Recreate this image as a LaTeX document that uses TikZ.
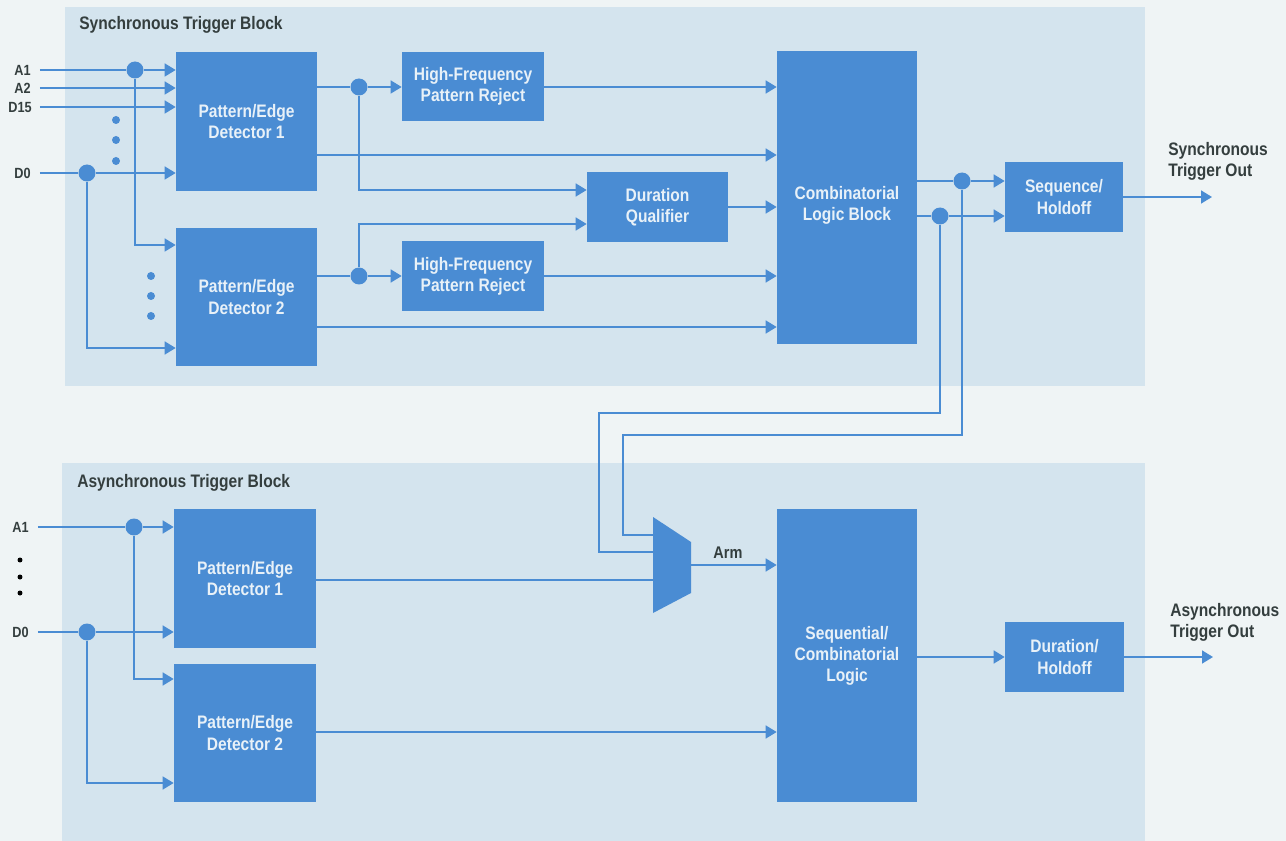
\documentclass[tikz,border=0pt]{standalone}
\usepackage{fontspec}
\setmainfont{Liberation Sans}[FakeStretch=0.86]
\usetikzlibrary{arrows.meta}
\definecolor{bgcol}{HTML}{EFF4F5}
\definecolor{panelcol}{HTML}{D4E4EE}
\definecolor{blkcol}{HTML}{4A8CD3}
\definecolor{txtcol}{HTML}{343E3E}
\definecolor{boxtxt}{HTML}{E8F1F8}
\begin{document}
\begin{tikzpicture}[x=0.02cm, y=-0.02cm,
    every node/.style={font=\fontsize{10.3}{12}\selectfont\bfseries},
    blk/.style={fill=blkcol, text=boxtxt, align=center, inner sep=0pt},
    lbl/.style={text=txtcol, inner sep=0pt},
    inlbl/.style={lbl, font=\fontsize{8.4}{10}\selectfont\bfseries},
    wire/.style={draw=blkcol, line width=0.9pt},
    sig/.style={wire, -{Triangle[length=0.22cm, width=0.26cm]}},
    jn/.style={circle, fill=blkcol, inner sep=0pt, minimum size=0.34cm},
    ell/.style={circle, fill=blkcol, inner sep=0pt, minimum size=0.16cm}]
        % panels
        \fill[bgcol] (0,0) rectangle (1286,841);
        \useasboundingbox (0,0) rectangle (1286,841);
        \fill[panelcol] (65,7) rectangle (1145,386);
        \fill[panelcol] (62,463) rectangle (1145,841);
        \node[lbl, anchor=west] (stitle) at (79,25) {Synchronous Trigger Block};
        \node[lbl, anchor=west] (atitle) at (77,483) {Asynchronous Trigger Block};
        % sync blocks
        \node[blk, minimum width=2.82cm, minimum height=2.78cm] (sped1) at (246.5,121.5) {Pattern/Edge\\Detector 1};
        \node[blk, minimum width=2.82cm, minimum height=2.76cm] (sped2) at (246.5,297) {Pattern/Edge\\Detector 2};
        \node[blk, minimum width=2.84cm, minimum height=1.38cm] (shf1) at (473,86.5) {High-Frequency\\Pattern Reject};
        \node[blk, minimum width=2.84cm, minimum height=1.40cm] (shf2) at (473,276) {High-Frequency\\Pattern Reject};
        \node[blk, minimum width=2.82cm, minimum height=1.40cm] (dq) at (657.5,207) {Duration\\Qualifier};
        \node[blk, minimum width=2.80cm, minimum height=5.86cm] (clb) at (847,197.5) {};
        \node[blk, fill=none] (clbt) at (847,205.5) {Combinatorial\\Logic Block};
        \node[blk, minimum width=2.36cm, minimum height=1.40cm] (sh) at (1064,197) {Sequence/\\Holdoff};
        % async blocks
        \node[blk, minimum width=2.84cm, minimum height=2.78cm] (aped1) at (245,578.5) {Pattern/Edge\\Detector 1};
        \node[blk, minimum width=2.84cm, minimum height=2.76cm] (aped2) at (245,733) {Pattern/Edge\\Detector 2};
        \node[blk, minimum width=2.80cm, minimum height=5.86cm] (scl) at (847,655.5) {Sequential/\\Combinatorial\\Logic};
        \node[blk, minimum width=2.38cm, minimum height=1.40cm] (dh) at (1064.5,657) {Duration/\\Holdoff};
        % mux
        \fill[blkcol] (653,517) -- (691,542) -- (691,593) -- (653,613) -- cycle;
        \coordinate (muxi1) at (653,552);
        \coordinate (muxi2) at (653,535);
        \coordinate (muxi3) at (653,580);
        \coordinate (muxo) at (691,565);
        \node[lbl, font=\fontsize{9.6}{12}\selectfont\bfseries] (arm) at (728,553) {Arm};
        % inputs
        \node[inlbl, anchor=east] (ia1) at (31,70) {A1};
        \node[inlbl, anchor=east] (ia2) at (31,88) {A2};
        \node[inlbl, anchor=east] (id15) at (32,107) {D15};
        \node[inlbl, anchor=east] (id0) at (31,173) {D0};
        \node[inlbl, anchor=east] (ka1l) at (29,527) {A1};
        \node[inlbl, anchor=east] (kd0l) at (29,632) {D0};
        \foreach \y in {120,140,161} \node[ell] (sv\y) at (116,\y) {};
        \foreach \y in {276,296,316} \node[ell] (sw\y) at (151,\y) {};
        \foreach \y in {560,577,593} \node[ell, fill=black, minimum size=0.1cm] (av\y) at (20,\y) {};
        % junctions
        \node[jn] (ja1) at (135,70) {};
        \node[jn] (jd0) at (87,173) {};
        \node[jn] (jp1) at (359,87) {};
        \node[jn] (jp2) at (359,276) {};
        \node[jn] (jo1) at (962,181) {};
        \node[jn] (jo2) at (940,216) {};
        \node[jn] (ka1) at (134,527) {};
        \node[jn] (kd0) at (87,632) {};
        % sync lines
        \draw[wire] ([xshift=0.18cm]ia1.east) -- (ja1);
        \draw[sig] (ja1) -- (ja1 -| sped1.west);
        \draw[sig] ([xshift=0.18cm]ia2.east) -- (ia2 -| sped1.west);
        \draw[sig] ([xshift=0.16cm]id15.east) -- (id15 -| sped1.west);
        \draw[wire] ([xshift=0.18cm]id0.east) -- (jd0);
        \draw[sig] (jd0) -- (jd0 -| sped1.west);
        \draw[sig] (ja1) |- (sped2.west |- 0,245);
        \draw[sig] (jd0) |- (sped2.west |- 0,348);
        \draw[wire] (sped1.east |- jp1) -- (jp1);
        \draw[sig] (jp1) -- (shf1.west |- jp1);
        \draw[sig] (jp1) |- (dq.west |- 0,190);
        \draw[sig] (sped1.east |- 0,155) -- (clb.west |- 0,155);
        \draw[wire] (sped2.east |- jp2) -- (jp2);
        \draw[sig] (jp2) -- (shf2.west |- jp2);
        \draw[sig] (jp2) |- (dq.west |- 0,224);
        \draw[sig] (sped2.east |- 0,327) -- (clb.west |- 0,327);
        \draw[sig] (shf1.east |- 0,87) -- (clb.west |- 0,87);
        \draw[sig] (dq.east) -- (clb.west |- dq.east);
        \draw[sig] (shf2.east) -- (clb.west |- shf2.east);
        \draw[wire] (clb.east |- jo1) -- (jo1);
        \draw[sig] (jo1) -- (sh.west |- jo1);
        \draw[wire] (clb.east |- jo2) -- (jo2);
        \draw[sig] (jo2) -- (sh.west |- jo2);
        \coordinate (sout) at (1212,197);
        \draw[sig] (sh.east) -- (sout);
        \node[lbl, anchor=west, align=left] (souttxt) at (1168,161) {Synchronous\\Trigger Out};
        % feedback to mux
        \draw[wire] (jo1) |- (623,435) |- (muxi2);
        \draw[wire] (jo2) |- (599,413) |- (muxi1);
        \draw[wire] (aped1.east |- muxi3) -- (muxi3);
        \draw[sig] (muxo) -- (scl.west |- muxo);
        % async lines
        \draw[wire] ([xshift=0.18cm]ka1l.east) -- (ka1);
        \draw[sig] (ka1) -- (ka1 -| aped1.west);
        \draw[sig] (ka1) |- (aped2.west |- 0,679);
        \draw[wire] ([xshift=0.18cm]kd0l.east) -- (kd0);
        \draw[sig] (kd0) -- (kd0 -| aped1.west);
        \draw[sig] (kd0) |- (aped2.west |- 0,783);
        \draw[sig] (aped2.east |- 0,732) -- (scl.west |- 0,732);
        \draw[sig] (scl.east |- dh.west) -- (dh.west);
        \coordinate (aout) at (1213,657);
        \draw[sig] (dh.east) -- (aout);
        \node[lbl, anchor=west, align=left] (aouttxt) at (1170,622) {Asynchronous\\Trigger Out};
\end{tikzpicture}
\end{document}
